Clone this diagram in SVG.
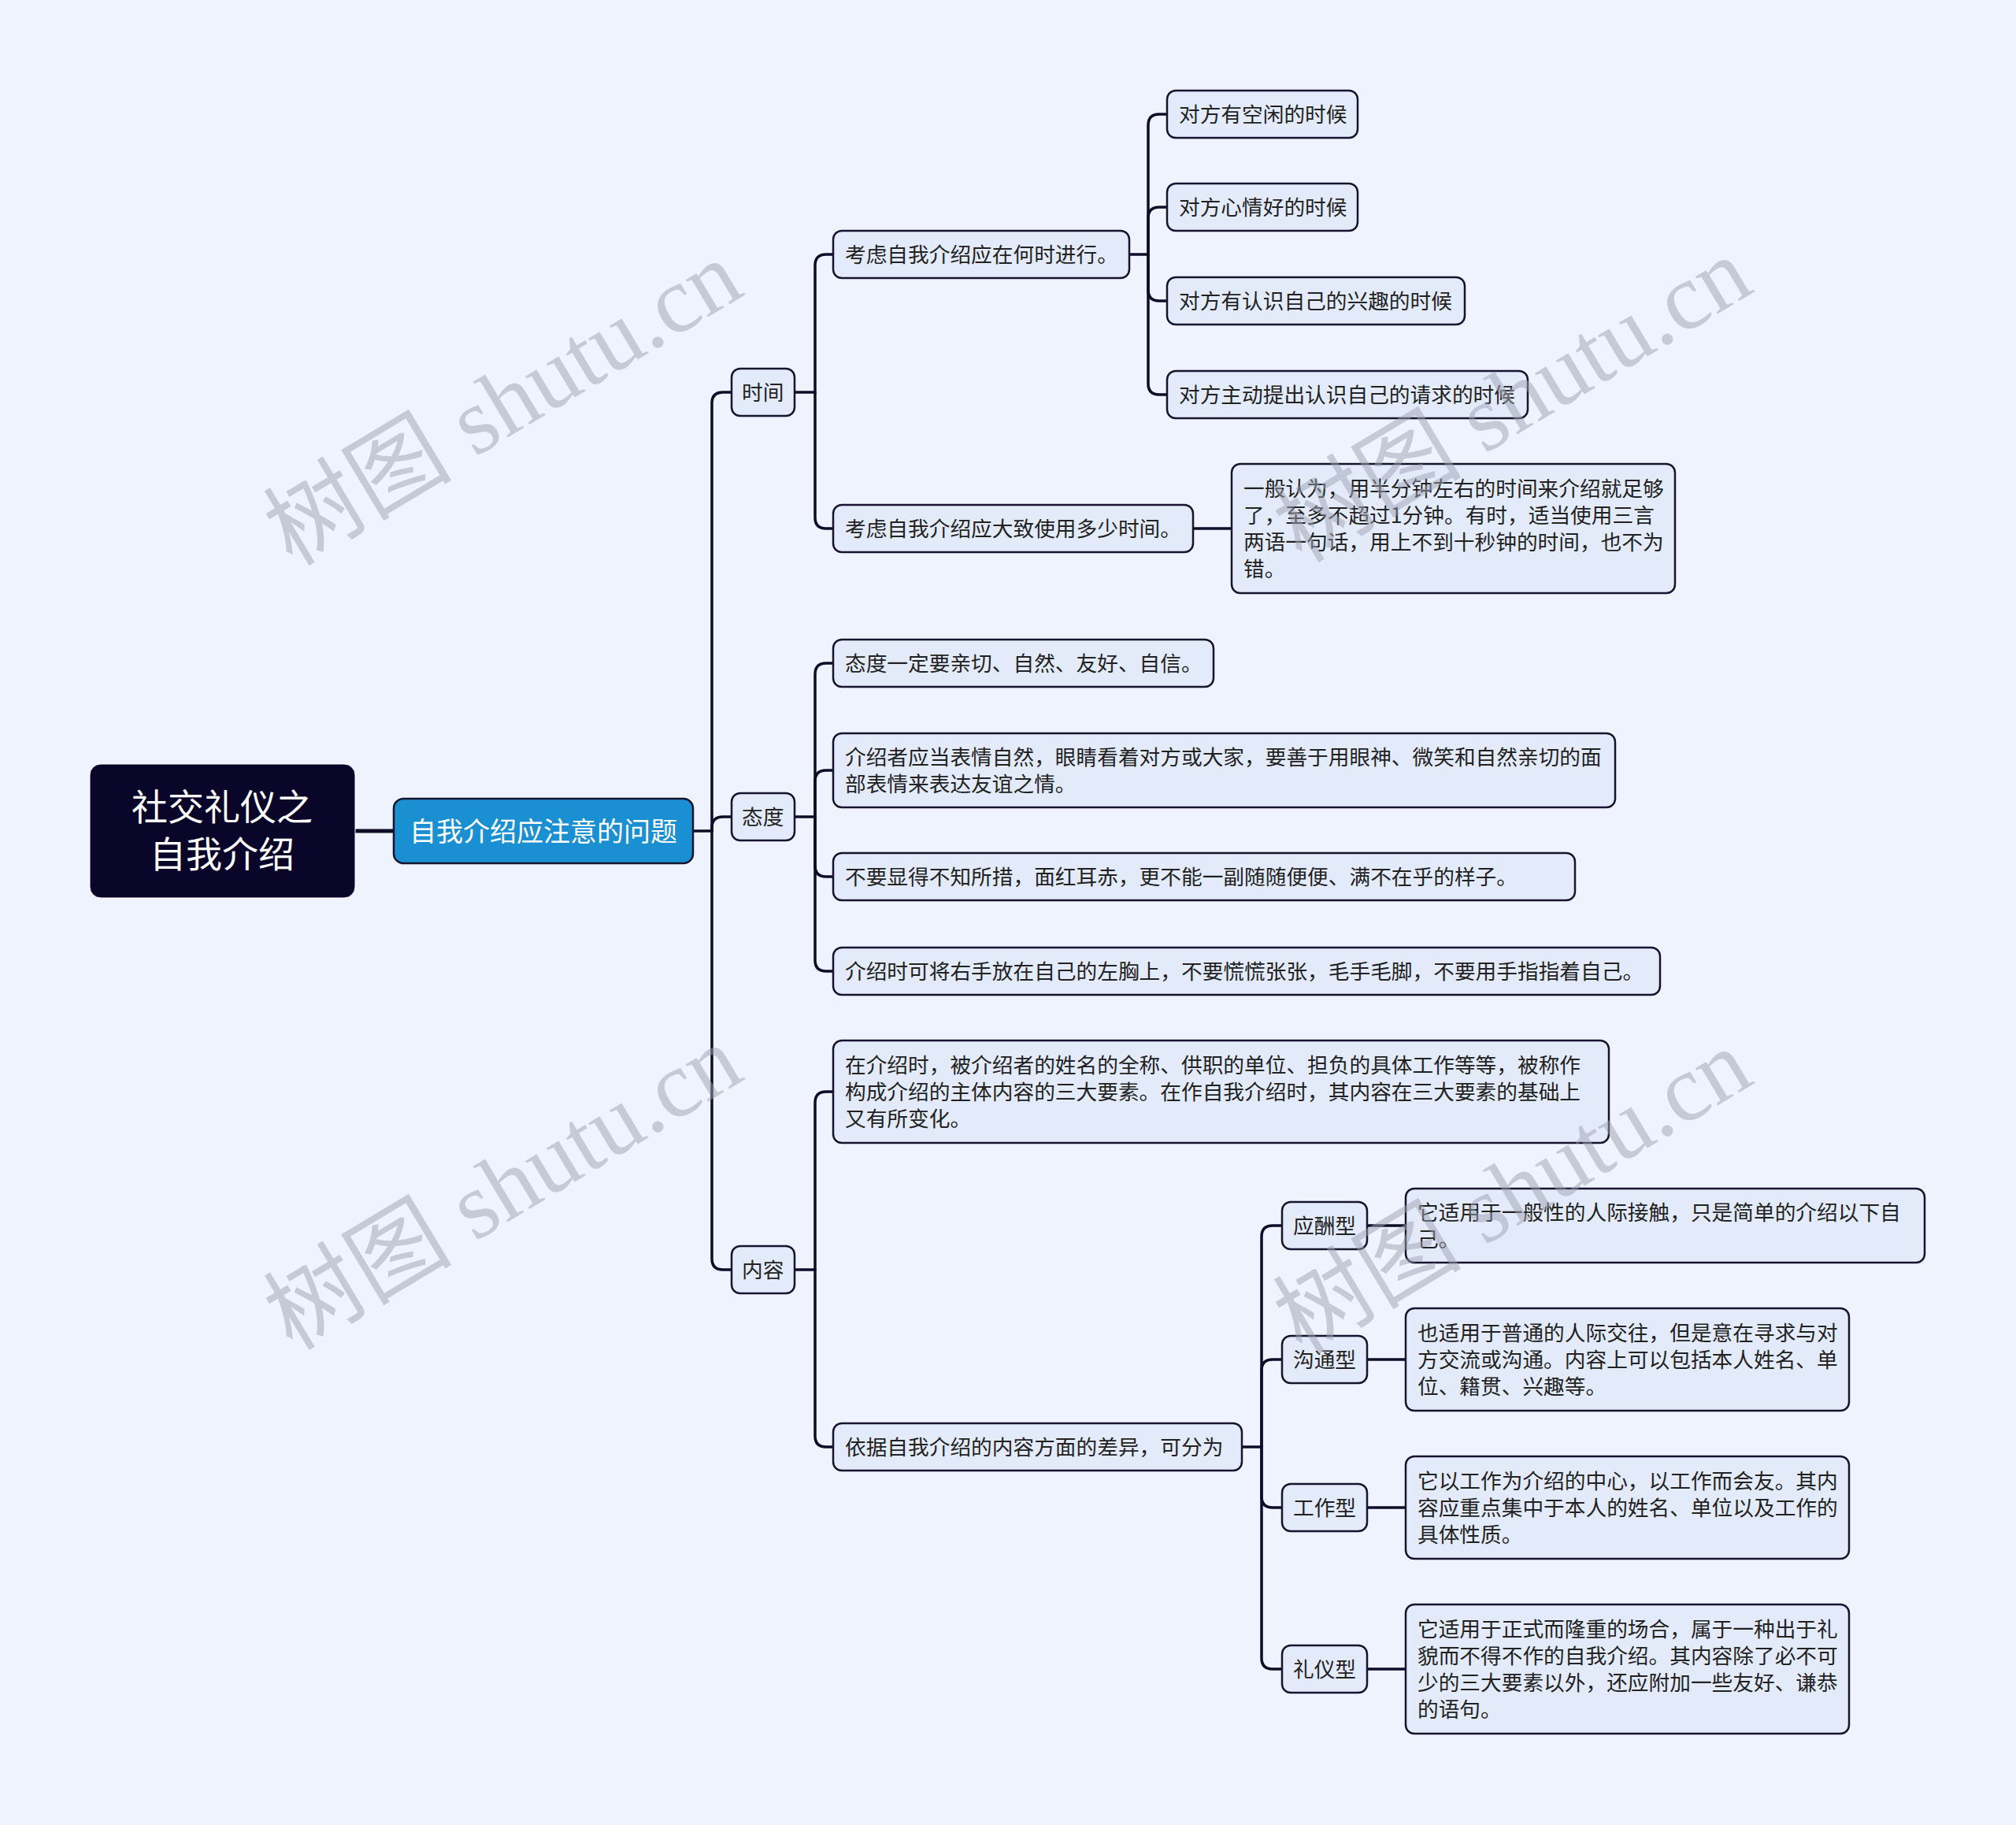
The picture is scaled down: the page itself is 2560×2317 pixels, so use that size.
<svg xmlns="http://www.w3.org/2000/svg" width="2560" height="2317" viewBox="0 0 2560 2317">
<style>
.bg{fill:#eef3fd}
.n{fill:#e3ebfb;stroke:#16142e;stroke-width:2.5}
.t{font-family:"Noto Sans CJK SC","Liberation Sans",sans-serif;font-size:26.7px;fill:#222222}
.c{fill:none;stroke:#0f0c29;stroke-width:3.5;stroke-linecap:round}
.wm{font-family:"Liberation Serif","Noto Sans CJK SC",serif;font-size:120px;fill:#9ea3b0;opacity:0.5}
</style>
<rect class="bg" x="0" y="0" width="2560" height="2317"/>

<g id="connectors">
<path class="c" d="M451 1055 H500" style="stroke-width:5"/>
<path class="c" d="M880 1055 H904"/>
<path class="c" d="M904 1055 V512 Q904 498 918 498 H929"/>
<path class="c" d="M904 1055 V1051 Q904 1037 918 1037 H929"/>
<path class="c" d="M904 1055 V1598 Q904 1612 918 1612 H929"/>
<path class="c" d="M1009 498 H1035"/>
<path class="c" d="M1035 498 V337 Q1035 323 1049 323 H1058"/>
<path class="c" d="M1035 498 V657 Q1035 671 1049 671 H1058"/>
<path class="c" d="M1434 323 H1458"/>
<path class="c" d="M1458 323 V159 Q1458 145 1472 145 H1482"/>
<path class="c" d="M1458 323 V277 Q1458 263 1472 263 H1482"/>
<path class="c" d="M1458 323 V368 Q1458 382 1472 382 H1482"/>
<path class="c" d="M1458 323 V487 Q1458 501 1472 501 H1482"/>
<path class="c" d="M1515 671 H1564"/>
<path class="c" d="M1009 1037 H1035"/>
<path class="c" d="M1035 1037 V856 Q1035 842 1049 842 H1058"/>
<path class="c" d="M1035 1037 V992 Q1035 978 1049 978 H1058"/>
<path class="c" d="M1035 1037 V1099 Q1035 1113 1049 1113 H1058"/>
<path class="c" d="M1035 1037 V1219 Q1035 1233 1049 1233 H1058"/>
<path class="c" d="M1009 1612 H1035"/>
<path class="c" d="M1035 1612 V1400 Q1035 1386 1049 1386 H1058"/>
<path class="c" d="M1035 1612 V1823 Q1035 1837 1049 1837 H1058"/>
<path class="c" d="M1577 1837 H1602"/>
<path class="c" d="M1602 1837 V1570 Q1602 1556 1616 1556 H1628"/>
<path class="c" d="M1602 1837 V1740 Q1602 1726 1616 1726 H1628"/>
<path class="c" d="M1602 1837 V1900 Q1602 1914 1616 1914 H1628"/>
<path class="c" d="M1602 1837 V2105 Q1602 2119 1616 2119 H1628"/>
<path class="c" d="M1736 1556 H1785"/>
<path class="c" d="M1736 1726 H1785"/>
<path class="c" d="M1736 1914 H1785"/>
<path class="c" d="M1736 2119 H1785"/>
</g>

<g id="root">
<rect x="114" y="970" width="337" height="170" rx="14" fill="#0a0629" stroke="#ffffff" stroke-width="1"/>
<text x="282" y="1041" text-anchor="middle" style="font-family:'Noto Sans CJK SC',sans-serif;font-size:46px;fill:#ffffff">社交礼仪之</text>
<text x="282" y="1101" text-anchor="middle" style="font-family:'Noto Sans CJK SC',sans-serif;font-size:46px;fill:#ffffff">自我介绍</text>
</g>

<g id="main">
<rect x="500" y="1014" width="380" height="82" rx="12" fill="#1a8fd1" stroke="#16142e" stroke-width="2.5"/>
<text x="690" y="1068" text-anchor="middle" style="font-family:'Noto Sans CJK SC',sans-serif;font-size:34px;fill:#ffffff">自我介绍应注意的问题</text>
</g>

<g id="n-shijian"><rect class="n" x="929" y="468" width="80" height="60" rx="11"/><text class="t" x="942" y="508">时间</text></g>
<g id="n-taidu"><rect class="n" x="929" y="1007" width="80" height="60" rx="11"/><text class="t" x="942" y="1047">态度</text></g>
<g id="n-neirong"><rect class="n" x="929" y="1582" width="80" height="60" rx="11"/><text class="t" x="942" y="1622">内容</text></g>

<g id="n-heshi"><rect class="n" x="1058" y="293" width="376" height="60" rx="11"/><text class="t" x="1073" y="333">考虑自我介绍应在何时进行。</text></g>
<g id="n-duoshao"><rect class="n" x="1058" y="641" width="457" height="60" rx="11"/><text class="t" x="1073" y="681">考虑自我介绍应大致使用多少时间。</text></g>

<g id="n-kongxian"><rect class="n" x="1482" y="115" width="242" height="60" rx="11"/><text class="t" x="1497" y="155">对方有空闲的时候</text></g>
<g id="n-xinqing"><rect class="n" x="1482" y="233" width="242" height="60" rx="11"/><text class="t" x="1497" y="273">对方心情好的时候</text></g>
<g id="n-xingqu"><rect class="n" x="1482" y="352" width="378" height="60" rx="11"/><text class="t" x="1497" y="392">对方有认识自己的兴趣的时候</text></g>
<g id="n-zhudong"><rect class="n" x="1482" y="471" width="458" height="60" rx="11"/><text class="t" x="1497" y="511">对方主动提出认识自己的请求的时候</text></g>

<g id="n-duoshao-text"><rect class="n" x="1564" y="589" width="563" height="164" rx="11"/>
<text class="t" x="1579" y="630">一般认为，用半分钟左右的时间来介绍就足够</text>
<text class="t" x="1579" y="664">了，至多不超过1分钟。有时，适当使用三言</text>
<text class="t" x="1579" y="698">两语一句话，用上不到十秒钟的时间，也不为</text>
<text class="t" x="1579" y="732">错。</text></g>

<g id="n-td1"><rect class="n" x="1058" y="812" width="483" height="60" rx="11"/><text class="t" x="1073" y="852">态度一定要亲切、自然、友好、自信。</text></g>
<g id="n-td2"><rect class="n" x="1058" y="931" width="993" height="94" rx="11"/>
<text class="t" x="1073" y="971">介绍者应当表情自然，眼睛看着对方或大家，要善于用眼神、微笑和自然亲切的面</text>
<text class="t" x="1073" y="1005">部表情来表达友谊之情。</text></g>
<g id="n-td3"><rect class="n" x="1058" y="1083" width="942" height="60" rx="11"/><text class="t" x="1073" y="1123">不要显得不知所措，面红耳赤，更不能一副随随便便、满不在乎的样子。</text></g>
<g id="n-td4"><rect class="n" x="1058" y="1203" width="1050" height="60" rx="11"/><text class="t" x="1073" y="1243">介绍时可将右手放在自己的左胸上，不要慌慌张张，毛手毛脚，不要用手指指着自己。</text></g>

<g id="n-nr1"><rect class="n" x="1058" y="1321" width="985" height="130" rx="11"/>
<text class="t" x="1073" y="1362">在介绍时，被介绍者的姓名的全称、供职的单位、担负的具体工作等等，被称作</text>
<text class="t" x="1073" y="1396">构成介绍的主体内容的三大要素。在作自我介绍时，其内容在三大要素的基础上</text>
<text class="t" x="1073" y="1430">又有所变化。</text></g>
<g id="n-yiju"><rect class="n" x="1058" y="1807" width="519" height="60" rx="11"/><text class="t" x="1073" y="1847">依据自我介绍的内容方面的差异，可分为</text></g>

<g id="n-yingchou"><rect class="n" x="1628" y="1526" width="108" height="60" rx="11"/><text class="t" x="1642" y="1566">应酬型</text></g>
<g id="n-goutong"><rect class="n" x="1628" y="1696" width="108" height="60" rx="11"/><text class="t" x="1642" y="1736">沟通型</text></g>
<g id="n-gongzuo"><rect class="n" x="1628" y="1884" width="108" height="60" rx="11"/><text class="t" x="1642" y="1924">工作型</text></g>
<g id="n-liyi"><rect class="n" x="1628" y="2089" width="108" height="60" rx="11"/><text class="t" x="1642" y="2129">礼仪型</text></g>

<g id="n-yingchou-text"><rect class="n" x="1785" y="1509" width="659" height="94" rx="11"/>
<text class="t" x="1800" y="1549">它适用于一般性的人际接触，只是简单的介绍以下自</text>
<text class="t" x="1800" y="1583">己。</text></g>
<g id="n-goutong-text"><rect class="n" x="1785" y="1661" width="563" height="130" rx="11"/>
<text class="t" x="1800" y="1702">也适用于普通的人际交往，但是意在寻求与对</text>
<text class="t" x="1800" y="1736">方交流或沟通。内容上可以包括本人姓名、单</text>
<text class="t" x="1800" y="1770">位、籍贯、兴趣等。</text></g>
<g id="n-gongzuo-text"><rect class="n" x="1785" y="1849" width="563" height="130" rx="11"/>
<text class="t" x="1800" y="1890">它以工作为介绍的中心，以工作而会友。其内</text>
<text class="t" x="1800" y="1924">容应重点集中于本人的姓名、单位以及工作的</text>
<text class="t" x="1800" y="1958">具体性质。</text></g>
<g id="n-liyi-text"><rect class="n" x="1785" y="2037" width="563" height="164" rx="11"/>
<text class="t" x="1800" y="2078">它适用于正式而隆重的场合，属于一种出于礼</text>
<text class="t" x="1800" y="2112">貌而不得不作的自我介绍。其内容除了必不可</text>
<text class="t" x="1800" y="2146">少的三大要素以外，还应附加一些友好、谦恭</text>
<text class="t" x="1800" y="2180">的语句。</text></g>

<g id="watermarks">
<text class="wm" x="640" y="552" text-anchor="middle" transform="rotate(-31 640 514)">树图 shutu.cn</text>
<text class="wm" x="1922" y="548" text-anchor="middle" transform="rotate(-31 1922 510)">树图 shutu.cn</text>
<text class="wm" x="640" y="1548" text-anchor="middle" transform="rotate(-31 640 1510)">树图 shutu.cn</text>
<text class="wm" x="1922" y="1553" text-anchor="middle" transform="rotate(-31 1922 1515)">树图 shutu.cn</text>
</g>
</svg>
